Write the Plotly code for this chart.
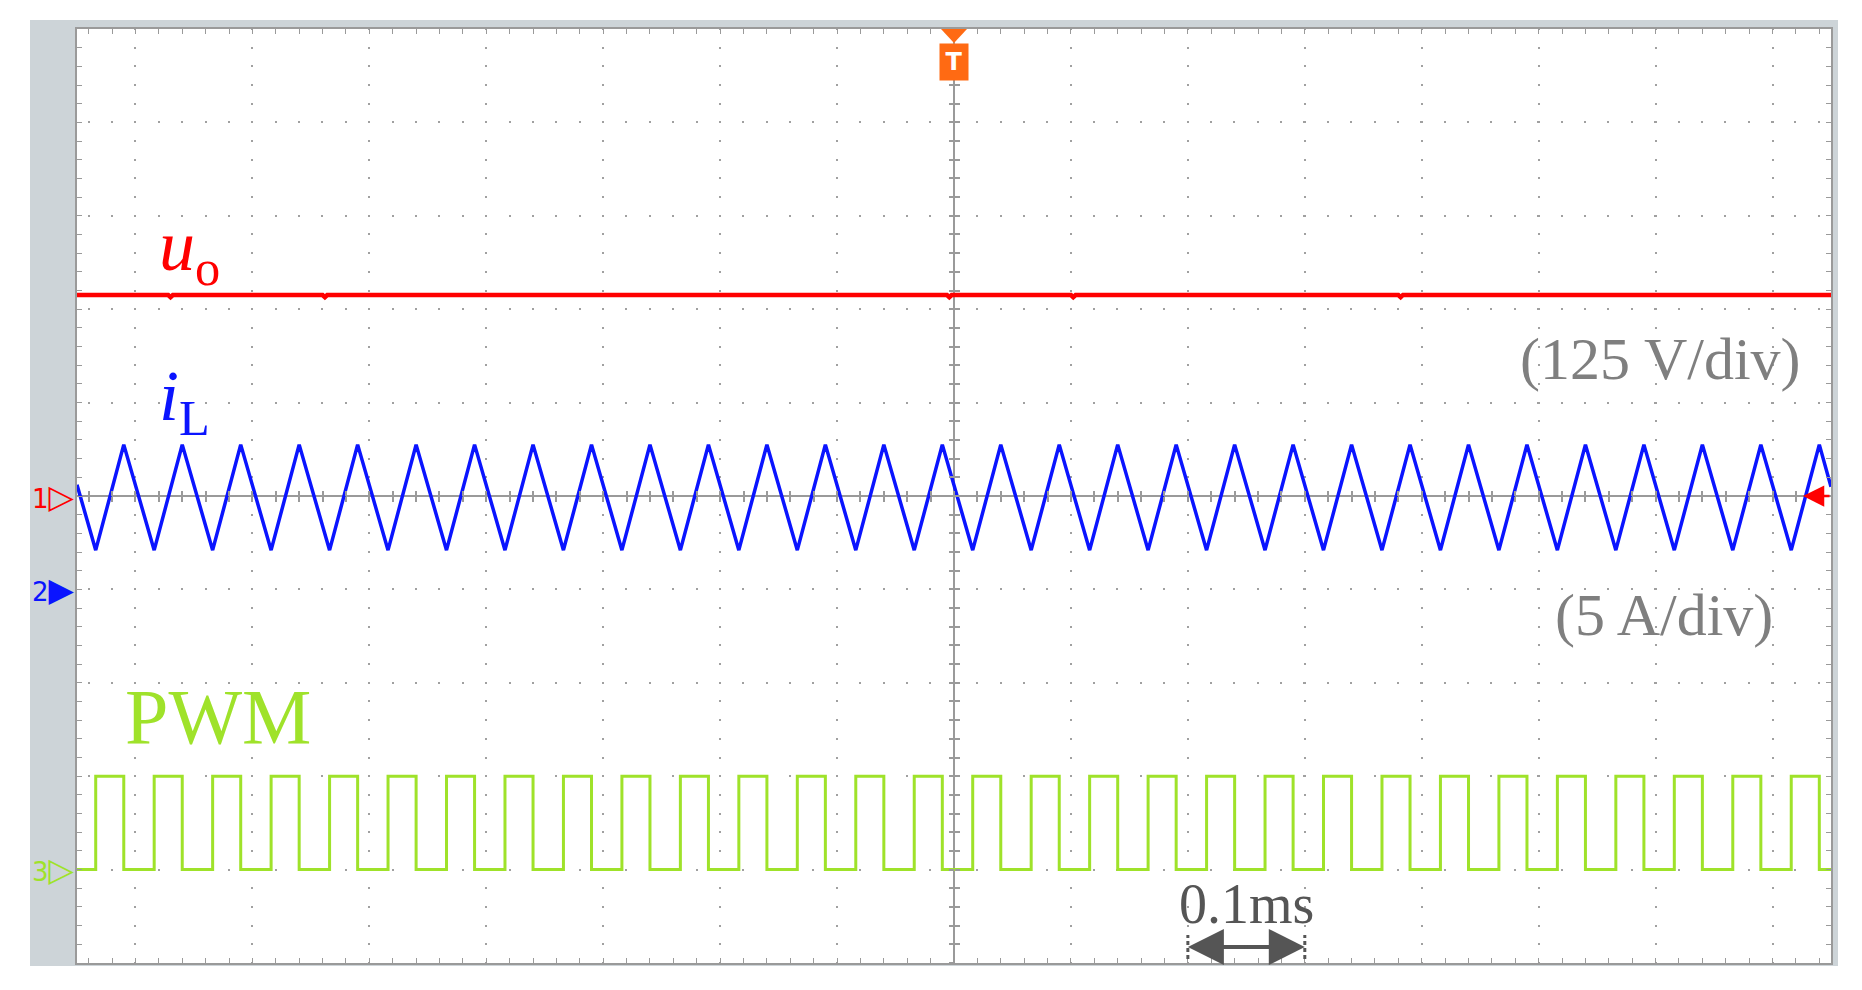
import plotly.graph_objects as go

# time base: 0.1 ms/div, 15 divisions, trigger at the centre
t_range = [-0.75, 0.75]

# output voltage u_o (125 V/div), samples (small dips included)
uo_ms = [-0.75, -0.672, -0.670, -0.668, -0.540, -0.538, -0.536, -0.006, -0.004, -0.002,
         0.100, 0.102, 0.104, 0.380, 0.382, 0.384, 0.75]
uo_v = [269, 269, 266, 269, 269, 266, 269, 269, 266, 269, 269, 266, 269, 269, 266, 269, 269]

# inductor current i_L (5 A/div): valley and peak instants (ms) and levels (A)
il_valley_ms = [-0.734, -0.684, -0.634, -0.584, -0.534, -0.484, -0.434, -0.384, -0.334, -0.284,
                -0.234, -0.184, -0.134, -0.084, -0.034, 0.016, 0.066, 0.116, 0.166, 0.216,
                0.266, 0.316, 0.366, 0.416, 0.466, 0.516, 0.566, 0.616, 0.666, 0.716]
il_peak_ms = [-0.710, -0.660, -0.610, -0.560, -0.510, -0.460, -0.410, -0.360, -0.310, -0.260,
              -0.210, -0.160, -0.110, -0.060, -0.010, 0.040, 0.090, 0.140, 0.190, 0.240,
              0.290, 0.340, 0.390, 0.440, 0.490, 0.540, 0.590, 0.640, 0.690, 0.740]
il_valley_a = 2.1
il_peak_a = 7.75
il_edge_a = [5.6, 5.5]   # values where the trace meets the left / right border

# PWM gate signal: switch turns on at the current valley, off at the peak
pwm_low, pwm_high = 0, 1

il_x, il_y = [t_range[0]], [il_edge_a[0]]
pwm_x, pwm_y = [t_range[0]], [pwm_low]
for tv, tp in zip(il_valley_ms, il_peak_ms):
    il_x += [tv, tp]
    il_y += [il_valley_a, il_peak_a]
    pwm_x += [tv, tp]
    pwm_y += [pwm_high, pwm_low]
il_x.append(t_range[1])
il_y.append(il_edge_a[1])
pwm_x.append(t_range[1])
pwm_y.append(pwm_low)

RED = '#ff0000'
BLUE = '#0a14ff'
GREEN = '#9fe22a'
ORANGE = '#ff6a13'
GRID = '#a0a0a0'
AXC = '#9a9a9a'
SERIF = 'Liberation Serif'

fig = go.Figure()
fig.add_trace(go.Scatter(x=uo_ms, y=uo_v, mode='lines', line=dict(color=RED, width=4.5), yaxis='y'))
fig.add_trace(go.Scatter(x=il_x, y=il_y, mode='lines', line=dict(color=BLUE, width=3.5), yaxis='y2'))
fig.add_trace(go.Scatter(x=pwm_x, y=pwm_y, mode='lines', line=dict(color=GREEN, width=3, shape='hv'), yaxis='y3'))
# empty traces so the centre-cross tick axes get drawn
for xa, ya in [('x2', 'y'), ('x3', 'y'), ('x', 'y4'), ('x', 'y5')]:
    fig.add_trace(go.Scatter(x=[], y=[], xaxis=xa, yaxis=ya, hoverinfo='skip'))

# the page body adds 8px around the plot div
W, H = 1854, 982
L, R, T, B = 69, 31, 21, 27
pw, ph = W - L - R, H - T - B
div_x = pw / 15
div_y = ph / 10

center_tick = dict(showgrid=False, zeroline=False, showline=False, showticklabels=False,
                   tickcolor=AXC, tickwidth=2, ticklen=5, anchor='free', position=0.5)

fig.update_layout(
    width=W, height=H, autosize=False,
    margin=dict(l=L, r=R, t=T, b=B, pad=0),
    paper_bgcolor='white', plot_bgcolor='rgba(0,0,0,0)',
    showlegend=False,
    xaxis=dict(range=t_range, tick0=0, dtick=0.1, showgrid=True, gridcolor=GRID, gridwidth=2,
               griddash='1px,%.2fpx,1px,0px' % (div_y / 5 - 2),
               zeroline=True, zerolinecolor=AXC, zerolinewidth=2,
               showline=True, linecolor=AXC, linewidth=2, mirror='ticks',
               ticks='inside', ticklen=5, tickcolor=AXC, tickwidth=1, showticklabels=False,
               minor=dict(dtick=0.02, ticks='inside', ticklen=5, tickcolor=AXC, showgrid=False)),
    yaxis=dict(range=[-625, 625], tick0=0, dtick=125, showgrid=True, gridcolor=GRID, gridwidth=2,
               griddash='0px,%.2fpx,2px,%.2fpx' % (div_x / 10 - 1, div_x / 10 - 1),
               zeroline=True, zerolinecolor=AXC, zerolinewidth=2,
               showline=True, linecolor=AXC, linewidth=2, mirror='ticks',
               ticks='inside', ticklen=5, tickcolor=AXC, tickwidth=1, showticklabels=False,
               minor=dict(dtick=25, ticks='inside', ticklen=5, tickcolor=AXC, showgrid=False)),
    yaxis2=dict(range=[-20, 30], overlaying='y', visible=False),
    yaxis3=dict(range=[-1, 9], overlaying='y', visible=False),
    # tick marks along the centre cross
    xaxis2=dict(center_tick, overlaying='x', range=t_range, tick0=0, dtick=0.02, ticks='outside'),
    xaxis3=dict(center_tick, overlaying='x', range=t_range, tick0=0, dtick=0.02, ticks='inside'),
    yaxis4=dict(center_tick, overlaying='y', range=[-625, 625], tick0=0, dtick=25, ticks='outside'),
    yaxis5=dict(center_tick, overlaying='y', range=[-625, 625], tick0=0, dtick=25, ticks='inside'),
)

# scope frame and screen
fig.add_shape(type='rect', xref='paper', yref='paper', x0=-47 / pw, x1=1 + 7 / pw, y0=-3 / ph, y1=1 + 9 / ph,
              fillcolor='#cdd4d8', line_width=0, layer='below')
fig.add_shape(type='rect', xref='paper', yref='paper', x0=0, x1=1, y0=0, y1=1,
              fillcolor='white', line_width=0, layer='below')

# channel ground markers on the left
for txt, col, yref in [('1▷', RED, 'y'), ('2▶', BLUE, 'y2'), ('3▷', GREEN, 'y3')]:
    fig.add_annotation(x=0, xref='paper', y=0, yref=yref, xanchor='right', yanchor='middle',
                       text="<span style='font-size:26px'>%s</span>%s" % (txt[0], txt[1]),
                       font=dict(family='DejaVu Sans', size=33, color=col), showarrow=False)

# trigger level arrow on the right
fig.add_annotation(x=1 - 28 / pw, xref='paper', y=0, yref='y', ax=28, ay=0, text='',
                   showarrow=True, arrowhead=2, arrowsize=1.7, arrowwidth=2.5, arrowcolor=RED)

# trigger position marker at the top
fig.add_shape(type='path', xref='x', yref='paper', xsizemode='pixel', ysizemode='pixel',
              xanchor=0, yanchor=1, path='M -13,0 L 13,0 L 0,-14 Z',
              fillcolor=ORANGE, line_width=0)
fig.add_annotation(x=0, xref='x', y=1, yref='paper', yanchor='top', text='<b>T</b>', showarrow=False,
                   font=dict(family='DejaVu Sans', size=24, color='white'), bgcolor=ORANGE,
                   width=26, height=34, yshift=-14)

# trace labels
fig.add_annotation(x=80 / pw, xref='paper', y=1 - 222 / ph, yref='paper', xanchor='left', yanchor='middle',
                   text='<i>u</i><sub>o</sub>', showarrow=False, font=dict(family=SERIF, size=72, color=RED))
fig.add_annotation(x=80 / pw, xref='paper', y=1 - 372 / ph, yref='paper', xanchor='left', yanchor='middle',
                   text='<i>i</i><sub>L</sub>', showarrow=False, font=dict(family=SERIF, size=72, color=BLUE))
fig.add_annotation(x=46 / pw, xref='paper', y=1 - 687 / ph, yref='paper', xanchor='left', yanchor='middle',
                   text='PWM', showarrow=False, font=dict(family=SERIF, size=78, color=GREEN))
fig.add_annotation(x=1 - 171 / pw, xref='paper', y=1 - 330 / ph, yref='paper', xanchor='center', yanchor='middle',
                   text='(125 V/div)', showarrow=False, font=dict(family=SERIF, size=60, color='#7f7f7f'))
fig.add_annotation(x=1 - 167 / pw, xref='paper', y=1 - 586 / ph, yref='paper', xanchor='center', yanchor='middle',
                   text='(5 A/div)', showarrow=False, font=dict(family=SERIF, size=60, color='#7f7f7f'))

# 0.1 ms scale bar
fig.add_annotation(x=0.25, xref='x', y=1 - 875 / ph, yref='paper', xanchor='center', yanchor='middle',
                   text='0.1ms', showarrow=False, font=dict(family=SERIF, size=56, color='#555555'))
fig.add_shape(type='line', xref='x', yref='paper', x0=0.21, x1=0.29, y0=1 - 918 / ph, y1=1 - 918 / ph,
              line=dict(color='#555555', width=4))
for xe in [0.2, 0.3]:
    fig.add_annotation(x=xe, xref='x', y=1 - 918 / ph, yref='paper', ax=0.25, axref='x', ay=0, ayref='pixel',
                       text='', showarrow=True, arrowhead=2, arrowsize=1.8, arrowwidth=4, arrowcolor='#555555')
    fig.add_shape(type='line', xref='x', yref='paper', x0=xe, x1=xe, y0=1 - 930 / ph, y1=1 - 906 / ph,
                  line=dict(color='#555555', width=3, dash='4px,3px'))

fig.write_html('out.html')
